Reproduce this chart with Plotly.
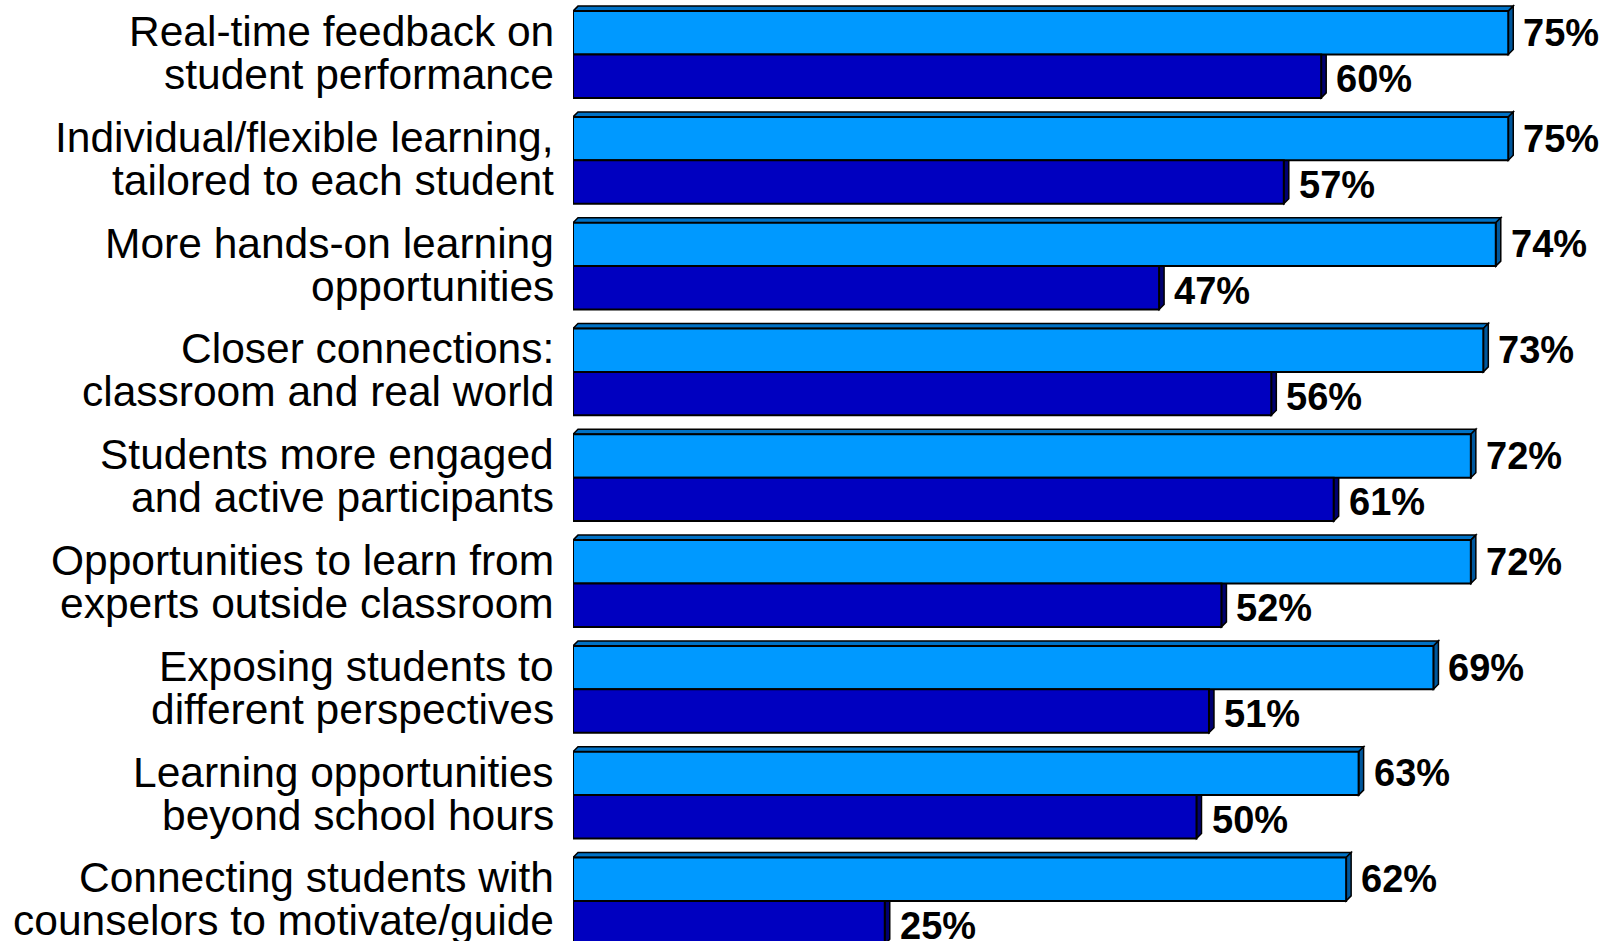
import plotly.graph_objects as go

categories = [
    "Real-time feedback on<br>student performance",
    "Individual/flexible learning,<br>tailored to each student",
    "More hands-on learning<br>opportunities",
    "Closer connections:<br>classroom and real world",
    "Students more engaged<br>and active participants",
    "Opportunities to learn from<br>experts outside classroom",
    "Exposing students to<br>different perspectives",
    "Learning opportunities<br>beyond school hours",
    "Connecting students with<br>counselors to motivate/guide",
]
series_a = [75, 75, 74, 73, 72, 72, 69, 63, 62]
series_b = [60, 57, 47, 56, 61, 52, 51, 50, 25]

LIGHT = "#0099FF"
DARK = "#0000C0"
LIGHT_SIDE = "#00579C"
LIGHT_TOP = "#0072C6"
DARK_SIDE = "#000070"

W, H = 1604, 941
ML = 573
PX_PER_UNIT = 12.47
PITCH = 105.8
C0 = 54.5
BW = 0.41
OFF = 0.205

xmax = (W - ML) / PX_PER_UNIT
ytop = -C0 / PITCH
ybot = (H - C0) / PITCH

idx = list(range(len(categories)))
ya = [i - OFF for i in idx]
yb = [i + OFF for i in idx]

fig = go.Figure()
fig.add_trace(go.Bar(x=series_a, y=ya, width=BW, orientation="h",
                     marker=dict(color=LIGHT, line=dict(color="black", width=2)),
                     hoverinfo="skip", showlegend=False))
fig.add_trace(go.Bar(x=series_b, y=yb, width=BW, orientation="h",
                     marker=dict(color=DARK, line=dict(color="black", width=2)),
                     hoverinfo="skip", showlegend=False))

d = 5
dx = d / PX_PER_UNIT
dy = d / PITCH
shapes = []
for vals, ys, side, top in [(series_a, ya, LIGHT_SIDE, LIGHT_TOP), (series_b, yb, DARK_SIDE, DARK_SIDE)]:
    for v, yc in zip(vals, ys):
        y0 = yc - BW / 2  # upper edge (reversed axis)
        y1 = yc + BW / 2
        shapes.append(dict(type="path", xref="x", yref="y", layer="below",
                           path=f"M 0 {y0} L {dx} {y0-dy} L {v+dx} {y0-dy} L {v} {y0} Z",
                           fillcolor=top, line=dict(color="black", width=1.5)))
        shapes.append(dict(type="path", xref="x", yref="y", layer="below",
                           path=f"M {v} {y0} L {v+dx} {y0-dy} L {v+dx} {y1-dy} L {v} {y1} Z",
                           fillcolor=side, line=dict(color="black", width=1.5)))

annotations = []
for i, cat in enumerate(categories):
    lines = cat.split("<br>")
    for line, shift in zip(lines, [23, -20]):
        annotations.append(dict(x=0, y=i, xref="x", yref="y", text=line, showarrow=False,
                                xanchor="right", yanchor="middle", xshift=-17, yshift=shift,
                                font=dict(family="Liberation Sans, Arial, sans-serif", size=42.5, color="black")))
for vals, ys, ysh in [(series_a, ya, 0), (series_b, yb, -3)]:
    for v, yc in zip(vals, ys):
        annotations.append(dict(x=v, y=yc, xref="x", yref="y", text=f"<b>{v}%</b>", showarrow=False,
                                xanchor="left", yanchor="middle", xshift=13, yshift=ysh,
                                font=dict(family="Liberation Sans, Arial, sans-serif", size=38, color="black")))

fig.update_layout(
    width=W, height=H,
    margin=dict(l=ML, r=0, t=0, b=0),
    paper_bgcolor="white", plot_bgcolor="white",
    barmode="overlay",
    shapes=shapes, annotations=annotations,
    xaxis=dict(range=[0, xmax], visible=False, fixedrange=True),
    yaxis=dict(range=[ybot, ytop], visible=False, fixedrange=True),
)
fig.write_html("out.html", config={"displayModeBar": False})

with open("out.html", "r", encoding="utf-8") as f:
    html = f.read()
html = html.replace("<head>", "<head><style>html,body{margin:0;padding:0;overflow:hidden;}</style>", 1)
with open("out.html", "w", encoding="utf-8") as f:
    f.write(html)
